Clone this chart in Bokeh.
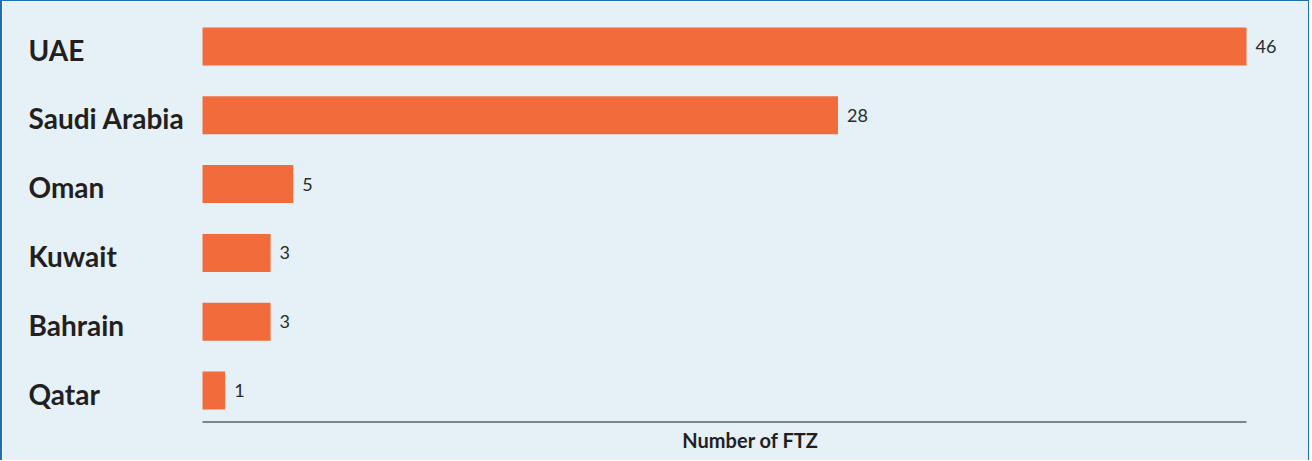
from bokeh.plotting import figure
from bokeh.models import ColumnDataSource, LabelSet, Label, Range1d
from bokeh.core.properties import value
from bokeh.embed import file_html
from bokeh.resources import INLINE

countries = ["UAE", "Saudi Arabia", "Oman", "Kuwait", "Bahrain", "Qatar"]
bar_lengths = [46, 28, 4, 3, 3, 1]          # drawn bar lengths as they appear
value_labels = ["46", "28", "5", "3", "3", "1"]  # printed value labels
axis_title = "Number of FTZ"

BG = "#e5f0f7"
BAR = "#f26b3b"
TEXT = "#231f20"

# layout constants (canvas pixels)
W, H = 1309, 460
LEFT_PX = 200          # where the bars start
RIGHT_PX = 1244        # where the longest bar ends
ROW0_PX = 45           # centre of first row
PITCH_PX = 68.8        # row spacing
AXIS_PX = 420.5        # axis line position
TITLE_X_PX, TITLE_Y_PX = 748, 438

xmax = max(bar_lengths)
sx = (RIGHT_PX - LEFT_PX) / xmax
x_range = Range1d(-LEFT_PX / sx, xmax + (W - RIGHT_PX) / sx)
y_range = Range1d((H - ROW0_PX) / PITCH_PX, -ROW0_PX / PITCH_PX)

rows = list(range(len(countries)))
src = ColumnDataSource(dict(row=rows, country=countries, length=bar_lengths,
                            lbl=value_labels, zero=[0] * len(countries)))

p = figure(width=W, height=H, x_range=x_range, y_range=y_range,
           output_backend="svg", toolbar_location=None,
           min_border_left=0, min_border_right=0, min_border_top=0, min_border_bottom=0)
p.background_fill_color = BG
p.border_fill_color = BG
p.outline_line_color = None
p.grid.visible = False
p.axis.visible = False
p.styles = {"border-top": "1px solid #1f6db3", "border-left": "2px solid #1f6db3",
            "border-right": "1px solid #1f6db3"}

p.hbar(y="row", right="length", left=0, height=38 / PITCH_PX, source=src, color=BAR, line_color=None)

# axis baseline
axis_y = (AXIS_PX - ROW0_PX) / PITCH_PX
p.segment(x0=[0], x1=[xmax], y0=[axis_y], y1=[axis_y], line_color="#7d848a", line_width=2)

p.add_layout(LabelSet(x="length", y="row", text="lbl", source=src, x_offset=9,
                      text_align="left", text_baseline="middle", text_font=value("Lato"),
                      text_font_size="18px", text_color="#2b2b2b"))

p.add_layout(LabelSet(x="zero", y="row", text="country", source=src, x_offset=-174, y_offset=-3,
                      text_align="left", text_baseline="middle", text_font=value("Lato"),
                      text_font_style="bold", text_font_size="28px", text_color=TEXT))

p.add_layout(Label(x=(TITLE_X_PX - LEFT_PX) / sx, y=(TITLE_Y_PX - ROW0_PX) / PITCH_PX,
                   text=axis_title, text_align="center", text_baseline="middle",
                   text_font="Lato", text_font_style="bold", text_font_size="20px", text_color=TEXT))

open("out.html", "w").write(file_html(p, INLINE))
